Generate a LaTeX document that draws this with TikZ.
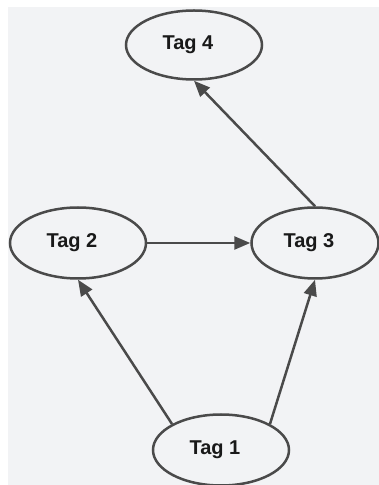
\documentclass[tikz,border=0pt]{standalone}
\usepackage{fontspec}
\setmainfont{Liberation Sans}
\usetikzlibrary{shapes.geometric,arrows.meta}
\definecolor{bggray}{HTML}{F2F3F5}
\definecolor{edgegray}{HTML}{4A4A4A}
\tikzset{
  tag/.style={ellipse, draw=edgegray, line width=2.5pt, minimum width=136pt, minimum height=71pt,
    font=\fontsize{20}{24}\selectfont\bfseries, text=black!90, execute at end node={\hspace*{12pt}}},
  link/.style={draw=edgegray, line width=2.5pt, -{Triangle[length=16pt,width=13pt]}}
}
\begin{document}
\begin{tikzpicture}[x=1pt, y=1pt, node distance=207pt]
    \useasboundingbox (0,0) rectangle (379,485);
    \fill[bggray] (8,0) rectangle (379,478);

    \node[tag] (tag1) at (221,35) {Tag 1};
    \node[tag, above of=tag1, xshift=-143pt] (tag2) {Tag 2};
    \node[tag, right of=tag2, node distance=237pt, minimum width=127pt] (tag3) {Tag 3};
    \node[tag, above of=tag2, node distance=198pt, xshift=116pt, minimum height=69pt] (tag4) {Tag 4};

    \draw[link] (tag1.north west) -- (tag2.south);
    \draw[link] (tag1.north east) -- (tag3.south);
    \draw[link] (tag2) -- (tag3);
    \draw[link] (tag3.north) -- (tag4.south);
\end{tikzpicture}
\end{document}
